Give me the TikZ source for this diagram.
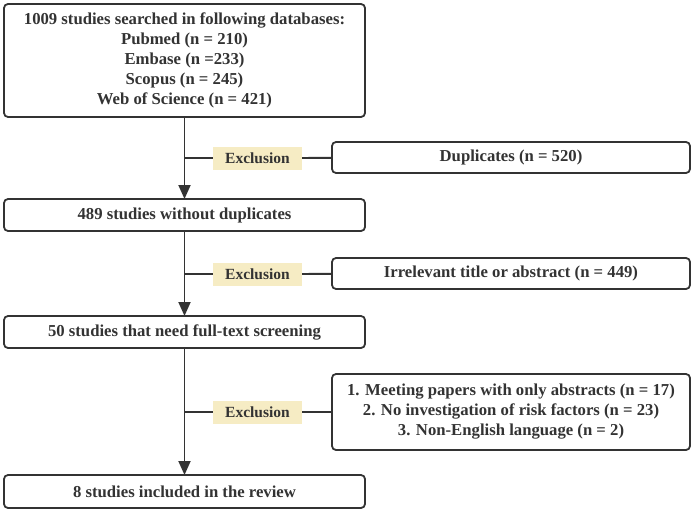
\documentclass[tikz,border=0pt]{standalone}
\usepackage{fontspec}
\setmainfont{Liberation Serif}
\usetikzlibrary{arrows.meta}
\definecolor{ink}{HTML}{333333}
\definecolor{exfill}{HTML}{F6ECC4}
\begin{document}
\begin{tikzpicture}[x=1pt,y=-1pt,
  box/.style={draw=ink,line width=1.8pt,rounded corners=4pt,fill=white,
    text=ink,font=\fontsize{16.7}{20}\selectfont\bfseries,align=center,
    inner sep=0pt,outer sep=0pt},
  exbox/.style={fill=exfill,text=ink,font=\fontsize{15.5}{18}\selectfont\bfseries,
    minimum width=89pt,minimum height=23pt,inner sep=0pt,outer sep=0pt},
  conn/.style={draw=ink,line width=1.8pt},
  arr/.style={conn,-{Triangle[length=14pt,width=12pt]}}]
\useasboundingbox (0,0) rectangle (697,511);
\node[box,minimum width=361pt,minimum height=113pt] (top) at (184.5,60.5)
  {1009 studies searched in following databases:\\Pubmed (n = 210)\\Embase (n =233)\\Scopus (n = 245)\\Web of Science (n = 421)};
\node[box,minimum width=361pt,minimum height=32pt] (b2) at (184.5,215) {489 studies without duplicates};
\node[box,minimum width=361pt,minimum height=32pt] (b3) at (184.5,332) {50 studies that need full-text screening};
\node[box,minimum width=361pt,minimum height=33pt] (b4) at (184.5,491.5) {8 studies included in the review};
\node[box,minimum width=358pt,minimum height=31pt] (d1) at (511,157.5) {Duplicates (n = 520)};
\node[box,minimum width=358pt,minimum height=31pt] (d2) at (511,273.5) {Irrelevant title or abstract (n = 449)};
\node[box,minimum width=358pt,minimum height=76pt] (d3) at (511,412)
  {1. Meeting papers with only abstracts (n = 17)\\2. No investigation of risk factors (n = 23)\\3. Non-English language (n = 2)};
\coordinate (j1) at (184.5,158);
\coordinate (j2) at (184.5,274);
\coordinate (j3) at (184.5,412);
\node[exbox] (e1) at (257.5,158) {Exclusion};
\node[exbox] (e2) at (257.5,274) {Exclusion};
\node[exbox] (e3) at (257.5,412) {Exclusion};
\draw[arr] (top) -- (b2);
\draw[arr] (b2) -- (b3);
\draw[arr] (b3) -- (b4);
\draw[conn] (j1) -- (e1);
\draw[conn] (e1) -- (d1);
\draw[conn] (j2) -- (e2);
\draw[conn] (e2) -- (d2);
\draw[conn] (j3) -- (e3);
\draw[conn] (e3) -- (d3);
\end{tikzpicture}
\end{document}
